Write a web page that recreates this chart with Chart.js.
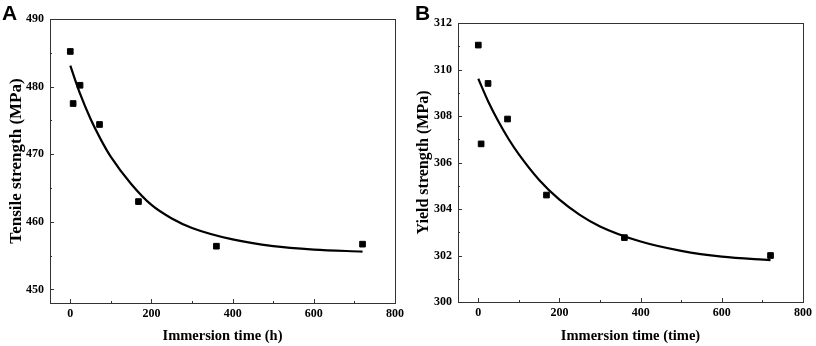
<!DOCTYPE html>
<html>
<head>
<meta charset="utf-8">
<script src="https://cdn.jsdelivr.net/npm/chart.js@4/dist/chart.umd.min.js"></script>
<style>
  html, body { margin: 0; padding: 0; background: #fff; }
  #wrap { position: relative; width: 816px; height: 346px; overflow: hidden; }
  .panel { position: absolute; top: 0; width: 408px; height: 346px; }
  .letter { position: absolute; font-family: "Liberation Sans", Arial, sans-serif; font-weight: bold; font-size: 21px; color: #000; line-height: 1; }
</style>
</head>
<body>
<div id="wrap">
  <div class="panel" style="left:0"><canvas id="cA" width="408" height="346"></canvas></div>
  <div class="panel" style="left:408px"><canvas id="cB" width="408" height="346"></canvas></div>
  <div class="letter" style="left:2px; top:2px;">A</div>
  <div class="letter" style="left:415px; top:2px;">B</div>
</div>
<script>
// ---- data ----
const immersionHours = [0, 7, 24, 72, 168, 360, 720];
const tensileStrength = [485.2, 477.5, 480.2, 474.4, 463.0, 456.4, 456.7];
const yieldStrength = [311.05, 306.8, 309.4, 307.87, 304.6, 302.77, 302.0];

// fitted curves, values
const fitX = [0, 25, 50, 75, 100, 150, 200, 250, 300, 400, 500, 600, 720];
const tensileFit = [483.1, 478.8, 475.2, 472.2, 469.6, 465.6, 462.5, 460.5, 459.1, 457.4, 456.4, 455.9, 455.6];
const yieldFit = [309.6, 308.6, 307.75, 307.0, 306.35, 305.25, 304.4, 303.75, 303.25, 302.6, 302.2, 301.95, 301.8];

const xTicksMajor = [0, 200, 400, 600, 800];
const tensileTicksMajor = [450, 460, 470, 480, 490];
const yieldTicksMajor = [300, 302, 304, 306, 308, 310, 312];

const serif = '"Liberation Serif", "Times New Roman", serif';

const framePlugin = {
  id: 'frame',
  afterDraw(chart, args, opts) {
    const ctx = chart.ctx;
    const a = chart.chartArea;
    const xs = chart.scales.x, ys = chart.scales.y;
    ctx.save();
    ctx.strokeStyle = '#333';
    ctx.lineWidth = 1;
    ctx.beginPath();
    // inward ticks
    xs.ticks.forEach(t => {
      const px = Math.round(xs.getPixelForValue(t.value)) + 0.5;
      const len = opts.xMajor.includes(t.value) ? 4 : 2;
      ctx.moveTo(px, a.bottom);
      ctx.lineTo(px, a.bottom - len);
    });
    ys.ticks.forEach(t => {
      const py = Math.round(ys.getPixelForValue(t.value)) + 0.5;
      const len = opts.yMajor.includes(t.value) ? 4 : 2;
      ctx.moveTo(a.left, py);
      ctx.lineTo(a.left + len, py);
    });
    ctx.stroke();
    ctx.strokeRect(Math.round(a.left) + 0.5, Math.round(a.top) + 0.5,
                   Math.round(a.right - a.left), Math.round(a.bottom - a.top));
    ctx.restore();
  }
};

function makeChart(id, pts, fit, yMin, yMax, yStep, yMajor, yTitle, yTitleSize, xTitle, pad, xH) {
  return new Chart(document.getElementById(id), {
    type: 'scatter',
    data: {
      datasets: [
        {
          data: fit.map((v, i) => ({x: fitX[i], y: v})),
          showLine: true,
          borderColor: '#000',
          borderWidth: 2.2,
          pointRadius: 0,
          cubicInterpolationMode: 'monotone',
          fill: false
        },
        {
          data: pts.map((v, i) => ({x: immersionHours[i], y: v})),
          pointStyle: 'rect',
          pointRadius: 4,
          pointBorderWidth: 1,
          backgroundColor: '#000',
          borderColor: '#000'
        }
      ]
    },
    options: {
      responsive: false,
      animation: false,
      events: [],
      layout: { padding: pad },
      plugins: {
        legend: { display: false },
        tooltip: { enabled: false },
        frame: { xMajor: xTicksMajor, yMajor: yMajor }
      },
      scales: {
        x: {
          type: 'linear',
          min: -50, max: 800,
          afterFit: s => { s.height = xH; },
          grid: { display: true, drawOnChartArea: false, drawTicks: false },
          border: { display: false },
          ticks: {
            stepSize: 100, includeBounds: false, autoSkip: false, maxRotation: 0,
            padding: 4, color: '#000',
            font: { family: serif, weight: 'bold', size: 12 },
            callback: v => xTicksMajor.includes(v) ? String(v) : ''
          },
          title: {
            display: true, text: xTitle, color: '#000',
            font: { family: serif, weight: 'bold', size: 14.5 },
            padding: { top: 0, bottom: 1 }
          }
        },
        y: {
          type: 'linear',
          min: yMin, max: yMax,
          afterFit: s => { s.width = 50; },
          grid: { display: true, drawOnChartArea: false, drawTicks: false },
          border: { display: false },
          ticks: {
            stepSize: yStep, includeBounds: false, autoSkip: false,
            padding: 6, color: '#000',
            font: { family: serif, weight: 'bold', size: 12 },
            callback: v => yMajor.includes(v) ? String(v) : ''
          },
          title: {
            display: true, text: yTitle, color: '#000',
            font: { family: serif, weight: 'bold', size: yTitleSize },
            padding: { top: 6, bottom: 6 }
          }
        }
      }
    },
    plugins: [framePlugin]
  });
}

makeChart('cA', tensileStrength, tensileFit, 448, 490, 5, tensileTicksMajor,
  'Tensile strength (MPa)', 17, 'Immersion time (h)', { top: 19, right: 6, left: 0, bottom: 0 }, 43);
makeChart('cB', yieldStrength, yieldFit, 300, 312, 1, yieldTicksMajor,
  'Yield strength (MPa)', 16, 'Immersion time (time)', { top: 23, right: 10, left: 0, bottom: 0 }, 44);
</script>
</body>
</html>
